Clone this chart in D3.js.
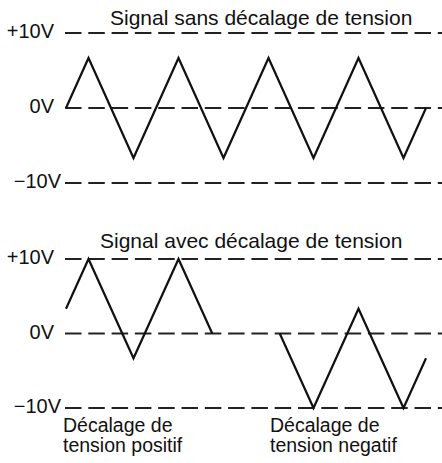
<!DOCTYPE html>
<html>
<head>
<meta charset="utf-8">
<script src="https://cdn.jsdelivr.net/npm/d3@7"></script>
<style>
  body { margin: 0; background: #fff; }
  text { font-family: "Liberation Sans", Arial, sans-serif; font-size: 19.5px; fill: #111; }
</style>
</head>
<body>
<div id="chart"></div>
<script>
// niveaux de tension (lignes pointillées)
let levels = [10, 0, -10];
let levelLabels = ["+10V", "0V", "\u221210V"];

// signal sans décalage
let tTop = [0, 1, 3, 5, 7, 9, 11, 13, 15, 16];
let vTop = [0, 6.67, -6.67, 6.67, -6.67, 6.67, -6.67, 6.67, -6.67, 0];

// signal avec décalage positif
let tPos = [0, 1, 3, 5, 6.5];
let vPos = [3.33, 10, -3.33, 10, 0];

// signal avec décalage negatif
let tNeg = [9.5, 11, 13, 15, 16];
let vNeg = [0, -10, 3.33, -10, -3.33];

let titles = ["Signal sans décalage de tension", "Signal avec décalage de tension"];
let notes = [["Décalage de", "tension positif"], ["Décalage de", "tension negatif"]];

let width = 442, height = 463;

let svg = d3.select("#chart").append("svg")
    .attr("width", width)
    .attr("height", height);

let x = d3.scaleLinear().domain([0, 16]).range([66, 426]);
let yTop = d3.scaleLinear().domain([-10, 10]).range([183, 33]);
let yBot = d3.scaleLinear().domain([-10, 10]).range([408, 259]);

let line = (y) => d3.line().x(d => x(d[0])).y(d => y(d[1]));

function drawLevels(y) {
    svg.selectAll(null).data(levels).enter()
        .append("line")
        .attr("x1", 65)
        .attr("x2", width)
        .attr("y1", d => y(d))
        .attr("y2", d => y(d))
        .attr("stroke", "#222")
        .attr("stroke-width", 1.8)
        .attr("stroke-dasharray", "16.5,6.8");

    svg.selectAll(null).data(levels).enter()
        .append("text")
        .attr("text-anchor", "end")
        .attr("x", (d, i) => i == 2 ? 61 : 54)
        .attr("y", d => y(d) + 5)
        .style("font-size", "20px")
        .text((d, i) => levelLabels[i]);
}

function drawSignal(ts, vs, y) {
    svg.append("path")
        .datum(d3.zip(ts, vs))
        .attr("d", line(y))
        .attr("fill", "none")
        .attr("stroke", "#111")
        .attr("stroke-width", 2.2)
        .attr("stroke-linejoin", "miter");
}

drawLevels(yTop);
drawLevels(yBot);

drawSignal(tTop, vTop, yTop);
drawSignal(tPos, vPos, yBot);
drawSignal(tNeg, vNeg, yBot);

// titres
svg.append("text").attr("x", 110).attr("y", 25).style("font-size", "21px").text(titles[0]);
svg.append("text").attr("x", 100).attr("y", 248).style("font-size", "21px").text(titles[1]);

// legendes du bas
[63, 270].forEach((xx, i) => {
    svg.append("text").attr("x", xx).attr("y", 432).text(notes[i][0]);
    svg.append("text").attr("x", xx).attr("y", 452).text(notes[i][1]);
});
</script>
</body>
</html>
